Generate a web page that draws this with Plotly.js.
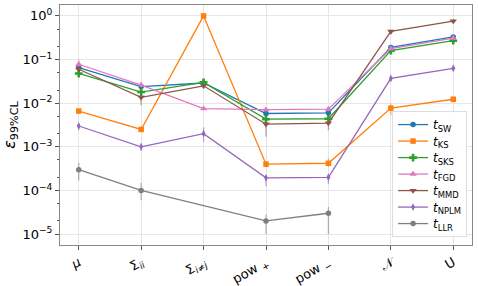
<!DOCTYPE html>
<html><head><meta charset="utf-8">
<script src="https://cdn.plot.ly/plotly-3.0.1.min.js"></script>
<style>body{margin:0;background:#fff}#c{width:478px;height:286px}</style>
</head><body><div id="c"></div>
<script>
const categories = ["<i>μ</i>", "Σ<sub><i>ii</i></sub>", "Σ<sub><i>i</i>≠<i>j</i></sub>", "pow <sub>+</sub>", "pow <sub>−</sub>", "𝒩", "U"];
const xIndex = [0, 1, 2, 3, 4, 5, 6];

const sw   = [0.065, 0.024, 0.029, 0.0058, 0.0060, 0.19, 0.33];
const ks   = [0.0066, 0.0025, 1.0, 0.00040, 0.00042, 0.0077, 0.0123];
const sks  = [0.048, 0.018, 0.030, 0.0043, 0.0044, 0.16, 0.27];
const fgd  = [0.078, 0.026, 0.0075, 0.0071, 0.0073, 0.178, 0.31];
const mmd  = [0.060, 0.0136, 0.025, 0.0033, 0.0035, 0.44, 0.76];
const nplm = [0.0030, 0.0010, 0.0020, 0.000195, 0.00020, 0.037, 0.063];
const llr  = [0.00030, 0.00010, null, 0.000020, 0.000030, null, null];

// asymmetric error bars (upper, lower), in data units
const swUp = [0.008, 0.002, 0.002, 0.0006, 0.0006, 0.015, 0.02];
const swDn = [0.008, 0.002, 0.002, 0.0006, 0.0006, 0.015, 0.02];
const ksUp = [0.0006, 0.0002, 0.02, 0.00005, 0.00013, 0.0022, 0.002];
const ksDn = [0.0008, 0.0002, 0.02, 0.00006, 0.00008, 0.0024, 0.002];
const sksUp = [0.006, 0.002, 0.003, 0.0004, 0.0004, 0.012, 0.02];
const sksDn = [0.010, 0.003, 0.003, 0.0004, 0.0004, 0.012, 0.02];
const fgdUp = [0.022, 0.004, 0.0006, 0.0012, 0.0013, 0.015, 0.02];
const fgdDn = [0.010, 0.003, 0.0006, 0.0009, 0.0009, 0.015, 0.02];
const mmdUp = [0.008, 0.002, 0.003, 0.0005, 0.0005, 0.04, 0.08];
const mmdDn = [0.008, 0.0046, 0.003, 0.0016, 0.0011, 0.04, 0.08];
const nplmUp = [0.0005, 0.0002, 0.0008, 0.00003, 0.00004, 0.003, 0.012];
const nplmDn = [0.0006, 0.0002, 0.0007, 0.00007, 0.00006, 0.003, 0.008];
const llrUp = [0.00013, 0.00005, null, 0.000008, 0.000012, null, null];
const llrDn = [0.00013, 0.00004, null, 0.000010, 0.000020, null, null];

const names = ["<i>t</i><sub>SW</sub>", "<i>t</i><sub>KS</sub>", "<i>t</i><sub>SKS</sub>", "<i>t</i><sub>FGD</sub>", "<i>t</i><sub>MMD</sub>", "<i>t</i><sub>NPLM</sub>", "<i>t</i><sub>LLR</sub>"];
const colors = ["#1f77b4", "#ff7f0e", "#2ca02c", "#e377c2", "#8c564b", "#9467bd", "#7f7f7f"];
const errc = ["rgba(31,119,180,0.55)", "rgba(255,127,14,0.55)", "rgba(44,160,44,0.55)", "rgba(227,119,194,0.55)", "rgba(140,86,75,0.55)", "rgba(148,103,189,0.55)", "rgba(127,127,127,0.55)"];
const symbols = ["circle", "square", "cross", "triangle-up", "triangle-down", "diamond-tall", "circle"];
const sizes = [5.5, 5.5, 6.5, 6.5, 6.5, 5.5, 5.5];
const vals = [sw, ks, sks, fgd, mmd, nplm, llr];
const ups = [swUp, ksUp, sksUp, fgdUp, mmdUp, nplmUp, llrUp];
const dns = [swDn, ksDn, sksDn, fgdDn, mmdDn, nplmDn, llrDn];

const traces = vals.map((v, i) => ({
  x: xIndex, y: v, name: names[i], type: "scatter", mode: "lines+markers",
  connectgaps: true,
  line: {color: colors[i], width: 1.3},
  marker: {color: colors[i], symbol: symbols[i], size: sizes[i]},
  error_y: {type: "data", symmetric: false, array: ups[i], arrayminus: dns[i], color: errc[i], thickness: 1.3, width: 0}
}));

const layout = {
  width: 478, height: 286,
  margin: {l: 60, r: 6, t: 5, b: 41},
  paper_bgcolor: "#fff", plot_bgcolor: "#fff",
  font: {family: "DejaVu Sans", color: "#000"},
  showlegend: true,
  legend: {x: 0.988, xanchor: "right", y: 0.033, yanchor: "bottom",
    bgcolor: "rgba(255,255,255,0.85)", bordercolor: "#ddd", borderwidth: 1,
    font: {size: 12}, tracegroupgap: 0, itemwidth: 30},
  xaxis: {
    range: [-0.3, 6.3], tickvals: xIndex, ticktext: categories, tickangle: -30,
    showgrid: true, gridcolor: "#e6e6e6", zeroline: false,
    showline: true, linecolor: "#888", linewidth: 1, mirror: true,
    ticks: "outside", ticklen: 4, tickcolor: "#555", tickfont: {size: 13}
  },
  yaxis: {
    type: "log", range: [-5.25, 0.25],
    tickvals: [1e-5, 1e-4, 1e-3, 1e-2, 1e-1, 1],
    ticktext: ["10<sup>−5</sup>", "10<sup>−4</sup>", "10<sup>−3</sup>", "10<sup>−2</sup>", "10<sup>−1</sup>", "10<sup>0</sup>"],
    showgrid: true, gridcolor: "#e6e6e6", zeroline: false,
    showline: true, linecolor: "#888", linewidth: 1, mirror: true,
    ticks: "outside", ticklen: 4, tickcolor: "#555", tickfont: {size: 13},
    minor: {ticks: "outside", ticklen: 2, tickcolor: "#555", showgrid: false},
    title: {text: "<i>ε</i><sub>99%CL</sub>", font: {size: 16}, standoff: 4}
  }
};

const re = /translate\(\s*([-\d.e]+)[ ,]+([-\d.e]+)\s*\)/;
Plotly.newPlot("c", traces, layout, {displayModeBar: false, staticPlot: true}).then(gd => {
  try {
    const leg = gd.querySelector("g.legend");
    const items = Array.from(leg.querySelectorAll("g.traces"));
    const pos = items.map(t => { const m = (t.getAttribute("transform") || "").match(re); return m ? [parseFloat(m[1]), parseFloat(m[2])] : null; });
    if (pos.some(p => !p)) return;
    const n = items.length;
    const oldStep = (pos[n - 1][1] - pos[0][1]) / (n - 1);
    const step = 16.5;
    if (oldStep <= step) return;
    const trim = 2;
    items.forEach((t, i) => t.setAttribute("transform", `translate(${pos[i][0]},${pos[0][1] - trim + i * step})`));
    const delta = (oldStep - step) * (n - 1) + trim * 2;
    const bg = leg.querySelector("rect.bg");
    bg.setAttribute("height", parseFloat(bg.getAttribute("height")) - delta);
    const lm = leg.getAttribute("transform").match(re);
    leg.setAttribute("transform", `translate(${lm[1]},${parseFloat(lm[2]) + delta})`);
  } catch (e) {}
});
</script></body></html>
